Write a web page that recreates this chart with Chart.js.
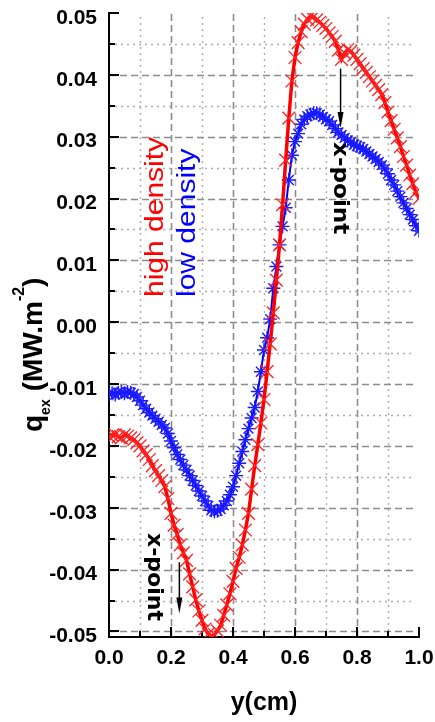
<!DOCTYPE html>
<html>
<head>
    <title>q_ex profile</title>
    <script src="https://cdn.jsdelivr.net/npm/chart.js"></script>
    <style>
        body { margin: 0; background: #fff; }
        canvas { display: block; }
    </style>
</head>
<body>
    <canvas id="qexChart" width="435" height="722"></canvas>

    <script>
        // positions along y (cm)
        const yPos = [0.00, 0.01, 0.02, 0.03, 0.04, 0.05, 0.06, 0.07, 0.08, 0.09,
            0.10, 0.11, 0.12, 0.13, 0.14, 0.15, 0.16, 0.17, 0.18, 0.19,
            0.20, 0.21, 0.22, 0.23, 0.24, 0.25, 0.26, 0.27, 0.28, 0.29,
            0.30, 0.31, 0.32, 0.33, 0.34, 0.35, 0.36, 0.37, 0.38, 0.39,
            0.40, 0.41, 0.42, 0.43, 0.44, 0.45, 0.46, 0.47, 0.48, 0.49,
            0.50, 0.51, 0.52, 0.53, 0.54, 0.55, 0.56, 0.57, 0.58, 0.59,
            0.60, 0.61, 0.62, 0.63, 0.64, 0.65, 0.66, 0.67, 0.68, 0.69,
            0.70, 0.71, 0.72, 0.73, 0.74, 0.75, 0.76, 0.77, 0.78, 0.79,
            0.80, 0.81, 0.82, 0.83, 0.84, 0.85, 0.86, 0.87, 0.88, 0.89,
            0.90, 0.91, 0.92, 0.93, 0.94, 0.95, 0.96, 0.97, 0.98, 0.99, 1.00];

        // q_ex (MW.m-2), high density
        const highDensity = [-0.0185, -0.0183, -0.0182, -0.0185, -0.0187, -0.0182, -0.0184, -0.0187, -0.0190, -0.0195,
            -0.0200, -0.0208, -0.0214, -0.0222, -0.0232, -0.0240, -0.0248, -0.0256, -0.0266, -0.0285,
            -0.0309, -0.0328, -0.0343, -0.0360, -0.0373, -0.0385, -0.0407, -0.0428, -0.0449, -0.0467,
            -0.0482, -0.0496, -0.0504, -0.0508, -0.0505, -0.0499, -0.0490, -0.0474, -0.0457, -0.0439,
            -0.0419, -0.0398, -0.0380, -0.0360, -0.0336, -0.0309, -0.0270, -0.0232, -0.0198, -0.0163,
            -0.0125, -0.0080, -0.0035, 0.0015, 0.0068, 0.0125, 0.0190, 0.0262, 0.0330, 0.0390,
            0.0428, 0.0452, 0.0470, 0.0482, 0.0490, 0.0495, 0.0494, 0.0489, 0.0485, 0.0480,
            0.0475, 0.0468, 0.0462, 0.0454, 0.0440, 0.0425, 0.0435, 0.0441, 0.0438, 0.0432,
            0.0425, 0.0418, 0.0410, 0.0404, 0.0397, 0.0390, 0.0383, 0.0376, 0.0368, 0.0355,
            0.0340, 0.0326, 0.0312, 0.0298, 0.0284, 0.0268, 0.0254, 0.0238, 0.0224, 0.0210, 0.0200];

        // q_ex (MW.m-2), low density
        const lowDensity = [-0.0116, -0.0115, -0.0117, -0.0114, -0.0113, -0.0115, -0.0113, -0.0114, -0.0116, -0.0121,
            -0.0127, -0.0134, -0.0140, -0.0146, -0.0151, -0.0156, -0.0161, -0.0166, -0.0171, -0.0180,
            -0.0192, -0.0203, -0.0214, -0.0222, -0.0231, -0.0239, -0.0248, -0.0256, -0.0264, -0.0273,
            -0.0281, -0.0289, -0.0297, -0.0304, -0.0306, -0.0305, -0.0302, -0.0296, -0.0289, -0.0279,
            -0.0266, -0.0248, -0.0228, -0.0209, -0.0190, -0.0172, -0.0155, -0.0138, -0.0112, -0.0080,
            -0.0045, -0.0025, 0.0005, 0.0055, 0.0090, 0.0125, 0.0155, 0.0185, 0.0230, 0.0270,
            0.0292, 0.0305, 0.0320, 0.0328, 0.0333, 0.0336, 0.0338, 0.0338, 0.0336, 0.0332,
            0.0328, 0.0325, 0.0319, 0.0313, 0.0307, 0.0303, 0.0298, 0.0294, 0.0291, 0.0287,
            0.0285, 0.0283, 0.0280, 0.0276, 0.0272, 0.0268, 0.0264, 0.0259, 0.0254, 0.0248,
            0.0240, 0.0230, 0.0222, 0.0212, 0.0203, 0.0193, 0.0184, 0.0174, 0.0166, 0.0156, 0.0148];

        // axis ticks
        const xTicks = [0.0, 0.1, 0.2, 0.3, 0.4, 0.5, 0.6, 0.7, 0.8, 0.9, 1.0];
        const xMajor = [0.0, 0.2, 0.4, 0.6, 0.8, 1.0];
        const xTickLabels = ['0.0', '0.2', '0.4', '0.6', '0.8', '1.0'];
        const yTicks = [-0.05, -0.045, -0.04, -0.035, -0.03, -0.025, -0.02, -0.015, -0.01, -0.005, 0,
            0.005, 0.01, 0.015, 0.02, 0.025, 0.03, 0.035, 0.04, 0.045, 0.05];
        const yMajor = [-0.05, -0.04, -0.03, -0.02, -0.01, 0, 0.01, 0.02, 0.03, 0.04, 0.05];
        const yTickLabels = ['-0.05', '-0.04', '-0.03', '-0.02', '-0.01', '0.00', '0.01', '0.02', '0.03', '0.04', '0.05'];

        const near = (a, b) => Math.abs(a - b) < 1e-6;
        const majorIndex = (list, v) => list.findIndex(m => near(m, v));

        // grid, inward ticks, titles and annotations
        const decorations = {
            id: 'decorations',
            beforeDatasetsDraw(chart) {
                const { ctx, chartArea: a, scales: { x, y } } = chart;
                ctx.save();
                // vertical grid
                xTicks.forEach(v => {
                    if (near(v, 0) || near(v, 1)) return;
                    const px = Math.round(x.getPixelForValue(v)) + 0.5;
                    const major = majorIndex(xMajor, v) >= 0;
                    ctx.strokeStyle = major ? '#8c8c8c' : '#adadad';
                    ctx.lineWidth = major ? 1.6 : 1.4;
                    ctx.setLineDash(major ? [7, 4] : [2, 4]);
                    ctx.beginPath();
                    ctx.moveTo(px, a.bottom);
                    ctx.lineTo(px, a.top);
                    ctx.stroke();
                });
                // horizontal grid
                yTicks.forEach(v => {
                    if (near(v, 0.05)) return;
                    const py = Math.round(y.getPixelForValue(v)) + 0.5;
                    const major = majorIndex(yMajor, v) >= 0;
                    ctx.strokeStyle = major ? '#8c8c8c' : '#adadad';
                    ctx.lineWidth = major ? 1.6 : 1.4;
                    ctx.setLineDash(major ? [7, 4] : [2, 4]);
                    ctx.beginPath();
                    ctx.moveTo(a.left, py);
                    ctx.lineTo(a.right - 4, py);
                    ctx.stroke();
                });
                // tick marks pointing inward
                ctx.setLineDash([]);
                ctx.strokeStyle = '#000';
                ctx.lineWidth = 2;
                yTicks.forEach(v => {
                    const py = Math.round(y.getPixelForValue(v));
                    const len = majorIndex(yMajor, v) >= 0 ? 10 : 6;
                    ctx.beginPath();
                    ctx.moveTo(a.left, py);
                    ctx.lineTo(a.left + len, py);
                    ctx.stroke();
                });
                xTicks.forEach(v => {
                    const px = Math.round(x.getPixelForValue(v));
                    const len = majorIndex(xMajor, v) >= 0 ? 10 : 6;
                    ctx.beginPath();
                    ctx.moveTo(px, a.bottom);
                    ctx.lineTo(px, a.bottom - len);
                    ctx.stroke();
                });
                ctx.restore();
            },
            afterDraw(chart) {
                const { ctx, scales: { x, y } } = chart;

                function rotText(text, px, py, angle, font, color, stretch) {
                    ctx.save();
                    ctx.translate(px, py);
                    ctx.rotate(angle);
                    ctx.scale(stretch || 1, 1);
                    ctx.font = font;
                    ctx.fillStyle = color;
                    ctx.textBaseline = 'alphabetic';
                    ctx.textAlign = 'left';
                    ctx.fillText(text, 0, 0);
                    ctx.restore();
                }

                function arrow(xv, y1, y2) {
                    const px = x.getPixelForValue(xv);
                    const p1 = y.getPixelForValue(y1);
                    const p2 = y.getPixelForValue(y2);
                    ctx.save();
                    ctx.strokeStyle = '#000';
                    ctx.fillStyle = '#000';
                    ctx.lineWidth = 1.5;
                    ctx.beginPath();
                    ctx.moveTo(px, p1);
                    ctx.lineTo(px, p2 - 12);
                    ctx.stroke();
                    ctx.beginPath();
                    ctx.moveTo(px - 3, p2 - 16);
                    ctx.lineTo(px + 3, p2 - 16);
                    ctx.lineTo(px, p2);
                    ctx.closePath();
                    ctx.fill();
                    ctx.restore();
                }

                // legend text
                rotText('high density', 163, 297, -Math.PI / 2, '25px "Liberation Sans", Arial, sans-serif', '#ff0000', 1.2);
                rotText('low density', 195, 297, -Math.PI / 2, '25px "Liberation Sans", Arial, sans-serif', '#0000ff', 1.2);

                // x-point markers
                arrow(0.747, 0.041, 0.0314);
                arrow(0.227, -0.0388, -0.0471);
                rotText('x-point', 334, 142, Math.PI / 2, 'bold 22px "DejaVu Sans", sans-serif', '#000', 1.05);
                rotText('x-point', 148, 533, Math.PI / 2, 'bold 22px "DejaVu Sans", sans-serif', '#000', 1.0);

                // y axis title: q_ex (MW.m^-2)
                ctx.save();
                ctx.translate(42, 432);
                ctx.rotate(-Math.PI / 2);
                ctx.fillStyle = '#000';
                ctx.textBaseline = 'alphabetic';
                let cx = 0;
                ctx.font = 'bold 28px "Liberation Sans", Arial, sans-serif';
                ctx.fillText('q', cx, 0);
                cx += ctx.measureText('q').width;
                ctx.font = 'bold 14px "Liberation Sans", Arial, sans-serif';
                ctx.fillText('ex', cx, 8);
                cx += ctx.measureText('ex').width + 8;
                ctx.font = 'bold 28px "Liberation Sans", Arial, sans-serif';
                ctx.fillText('(MW.m', cx, 0);
                cx += ctx.measureText('(MW.m').width;
                ctx.font = 'bold 16px "Liberation Sans", Arial, sans-serif';
                ctx.fillText('-2', cx, -18);
                cx += ctx.measureText('-2').width;
                ctx.font = 'bold 28px "Liberation Sans", Arial, sans-serif';
                ctx.fillText(')', cx, 0);
                ctx.restore();

                // x axis title
                ctx.save();
                ctx.font = 'bold 25px "Liberation Sans", Arial, sans-serif';
                ctx.fillStyle = '#000';
                ctx.textAlign = 'center';
                ctx.textBaseline = 'alphabetic';
                ctx.fillText('y(cm)', (chart.chartArea.left + chart.chartArea.right) / 2, 710);
                ctx.restore();
            }
        };

        const tickFont = { family: '"Liberation Sans", Arial, sans-serif', size: 21, weight: 'bold' };

        const ctx = document.getElementById('qexChart').getContext('2d');
        const chart = new Chart(ctx, {
            type: 'line',
            data: {
                datasets: [{
                    label: 'high density',
                    data: yPos.map((v, i) => ({ x: v, y: highDensity[i] })),
                    borderColor: '#ff0000',
                    backgroundColor: '#ff0000',
                    borderWidth: 3.5,
                    pointStyle: 'crossRot',
                    pointRadius: 9,
                    pointBorderWidth: 1.3,
                    pointBorderColor: '#ff2020',
                    fill: false,
                    tension: 0
                }, {
                    label: 'low density',
                    data: yPos.map((v, i) => ({ x: v, y: lowDensity[i] })),
                    borderColor: '#0000ff',
                    backgroundColor: '#0000ff',
                    borderWidth: 2,
                    pointStyle: 'star',
                    pointRadius: 7,
                    pointBorderWidth: 1.4,
                    pointBorderColor: '#1a1aff',
                    fill: false,
                    tension: 0
                }]
            },
            options: {
                responsive: false,
                animation: false,
                devicePixelRatio: 1,
                layout: { padding: { left: 49, right: 16, top: 13, bottom: 51 } },
                plugins: {
                    legend: { display: false },
                    tooltip: { enabled: false }
                },
                scales: {
                    x: {
                        type: 'linear',
                        min: 0,
                        max: 1,
                        grid: { display: false, drawTicks: false },
                        border: { display: true, color: '#000', width: 2 },
                        afterBuildTicks: s => { s.ticks = xTicks.map(v => ({ value: v })); },
                        afterFit: s => { s.height = 34; s.paddingLeft = 0; s.paddingRight = 0; },
                        ticks: {
                            autoSkip: false,
                            maxRotation: 0,
                            padding: 9,
                            color: '#000',
                            font: tickFont,
                            callback: v => {
                                const i = majorIndex(xMajor, v);
                                return i >= 0 ? xTickLabels[i] : '';
                            }
                        }
                    },
                    y: {
                        type: 'linear',
                        min: -0.0509,
                        max: 0.05,
                        grid: { display: false, drawTicks: false },
                        border: { display: true, color: '#000', width: 2 },
                        afterBuildTicks: s => { s.ticks = yTicks.map(v => ({ value: v })); },
                        afterFit: s => { s.width = 60; s.paddingTop = 0; s.paddingBottom = 0; },
                        ticks: {
                            autoSkip: false,
                            padding: 12,
                            labelOffset: 5,
                            color: '#000',
                            font: tickFont,
                            callback: v => {
                                const i = majorIndex(yMajor, v);
                                return i >= 0 ? yTickLabels[i] : '';
                            }
                        }
                    }
                }
            },
            plugins: [decorations]
        });
    </script>
</body>
</html>
